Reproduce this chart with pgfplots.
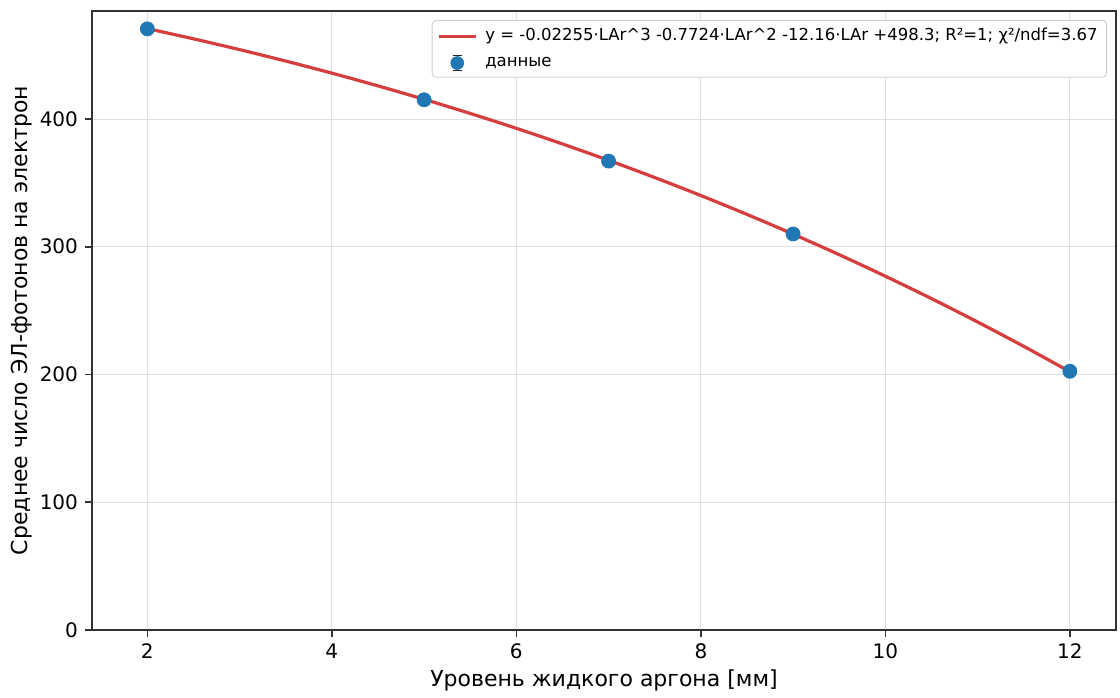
\documentclass[border=0pt]{standalone}
\usepackage{fontspec}
\setmainfont{DejaVu Sans}
\usepackage{pgfplots}
\pgfplotsset{compat=1.18}
\definecolor{fitred}{RGB}{214,62,62}
\definecolor{tabblue}{RGB}{31,119,180}
\begin{document}
\begin{tikzpicture}
\begin{axis}[
 at={(0,0)}, anchor=south west,
 scale only axis, width=512pt, height=309.5pt,
 xmin=1.4, xmax=12.5, ymin=0, ymax=484.5,
 xtick={2,4,...,12}, ytick={0,100,...,400},
 grid=major, grid style={black!12, line width=0.4pt},
 axis line style={black!80, line width=0.8pt},
 tick style={black!80, line width=0.8pt}, tick align=outside, major tick length=3.5pt,
 xtick pos=bottom, ytick pos=left,
 ticklabel style={font=\fontsize{10}{12}\selectfont},
 /pgf/number format/assume math mode=true,
 xlabel={Уровень жидкого аргона [мм]},
 ylabel={Среднее число ЭЛ-фотонов на электрон},
 every axis x label/.style={at={(axis description cs:0.5,0)}, yshift=-25pt, anchor=center, font=\fontsize{11}{13}\selectfont},
 every axis y label/.style={at={(axis description cs:0,0.5)}, xshift=-35pt, rotate=90, anchor=center, font=\fontsize{11}{13}\selectfont},
 legend style={at={(1,1)}, xshift=-4.5pt, yshift=-4.5pt, anchor=north east, font=\fontsize{8.25}{10}\selectfont, draw=black!20, rounded corners=2pt, row sep=2.5pt, inner xsep=2.5pt, inner ysep=2pt},
 legend cell align=left,
]
\addplot[fitred, line width=1.6pt, smooth,
  legend image code/.code={\draw[fitred, line width=1.6pt] (0cm,0cm)--(0.65cm,0cm);}] coordinates {
(2,470.71) (2.5,462.72) (3,454.26) (3.5,445.31) (4,435.86) (4.5,425.88) (5,415.37) (5.5,404.30) (6,392.66) (6.5,380.43) (7,367.60) (7.5,354.14) (8,340.04) (8.5,325.28) (9,309.86) (9.5,293.74) (10,276.91) (10.5,259.36) (11,241.07) (11.5,222.01) (12,202.19)};
\addlegendentry{\hspace{2pt}y = -0.02255·LAr\textasciicircum3 -0.7724·LAr\textasciicircum2 -12.16·LAr +498.3; R²=1; χ²/ndf=3.67}
\addplot[only marks, mark=*, mark size=3.5pt, color=tabblue,
  legend image code/.code={
    \draw[black!85, line width=0.6pt] (0.325cm,-0.13cm)--(0.325cm,0.13cm);
    \draw[black!85, line width=0.6pt] (0.245cm,-0.13cm)--(0.405cm,-0.13cm);
    \draw[black!85, line width=0.6pt] (0.245cm,0.13cm)--(0.405cm,0.13cm);
    \fill[tabblue] (0.325cm,0cm) circle (3.2pt);
  }] coordinates {(2,470.5) (5,415) (7,367) (9,310) (12,202.5)};
\addlegendentry{\hspace{2pt}данные}
\end{axis}
\pgfresetboundingbox
\path[use as bounding box] (-46pt,-33.5pt) rectangle (514pt,315pt);
\end{tikzpicture}
\end{document}
